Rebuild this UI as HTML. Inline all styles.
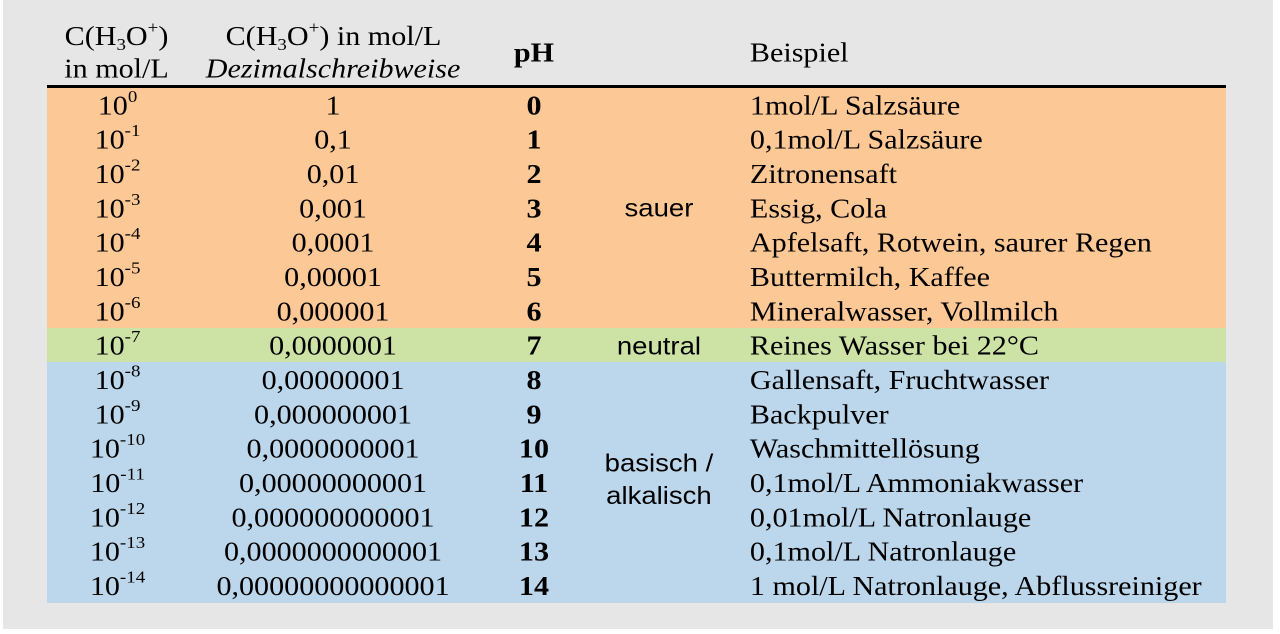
<!DOCTYPE html>
<html>
<head>
<meta charset="utf-8">
<style>
html,body{margin:0;padding:0;background:#fff;}
svg{display:block;}
.s{font-family:"Liberation Serif","Times New Roman",serif;font-size:27px;fill:#000;}
.a{font-family:"Liberation Sans",Arial,sans-serif;font-size:24.7px;fill:#000;}
.b{font-weight:bold;}
.m{text-anchor:middle;}
</style>
</head>
<body>
<svg width="1280" height="634" viewBox="0 0 1280 634" xmlns="http://www.w3.org/2000/svg">
<rect x="0" y="0" width="1280" height="634" fill="#ffffff"/>
<rect x="3" y="0" width="1270" height="629" fill="#e6e6e6"/>
<rect x="47" y="88" width="1179" height="240" fill="#fcc896"/>
<rect x="47" y="328" width="1179" height="34" fill="#cde2a5"/>
<rect x="47" y="362" width="1179" height="241" fill="#bcd6eb"/>
<rect x="47" y="85" width="1179" height="3" fill="#000"/>
<g transform="scale(1.115,1)">
<!-- header -->
<text class="s m" x="104.5" y="45">C(H<tspan font-size="17" dy="5">3</tspan><tspan dy="-5">O</tspan><tspan font-size="17" dy="-12">+</tspan><tspan dy="12">)</tspan></text>
<text class="s m" x="104.5" y="77.5">in mol/L</text>
<text class="s m" x="299.1" y="45">C(H<tspan font-size="17" dy="5">3</tspan><tspan dy="-5">O</tspan><tspan font-size="17" dy="-12">+</tspan><tspan dy="12">) in mol/L</tspan></text>
<text class="s m" x="298.7" y="77.5" font-style="italic">Dezimalschreibweise</text>
<text class="s m b" x="478.9" y="61.7">pH</text>
<text class="s" x="672.6" y="61.7">Beispiel</text>

<!-- col 1 -->
<text class="s m" x="105.4" y="114.3">10<tspan font-size="17" dy="-12.5">0</tspan></text>
<text class="s m" x="105.4" y="148.6">10<tspan font-size="17" dy="-12.5">-1</tspan></text>
<text class="s m" x="105.4" y="183">10<tspan font-size="17" dy="-12.5">-2</tspan></text>
<text class="s m" x="105.4" y="217.3">10<tspan font-size="17" dy="-12.5">-3</tspan></text>
<text class="s m" x="105.4" y="251.6">10<tspan font-size="17" dy="-12.5">-4</tspan></text>
<text class="s m" x="105.4" y="286">10<tspan font-size="17" dy="-12.5">-5</tspan></text>
<text class="s m" x="105.4" y="320.3">10<tspan font-size="17" dy="-12.5">-6</tspan></text>
<text class="s m" x="105.4" y="354.6">10<tspan font-size="17" dy="-12.5">-7</tspan></text>
<text class="s m" x="105.4" y="389">10<tspan font-size="17" dy="-12.5">-8</tspan></text>
<text class="s m" x="105.4" y="423.3">10<tspan font-size="17" dy="-12.5">-9</tspan></text>
<text class="s m" x="105.4" y="457.6">10<tspan font-size="17" dy="-12.5">-10</tspan></text>
<text class="s m" x="105.4" y="492">10<tspan font-size="17" dy="-12.5">-11</tspan></text>
<text class="s m" x="105.4" y="526.3">10<tspan font-size="17" dy="-12.5">-12</tspan></text>
<text class="s m" x="105.4" y="560.6">10<tspan font-size="17" dy="-12.5">-13</tspan></text>
<text class="s m" x="105.4" y="595">10<tspan font-size="17" dy="-12.5">-14</tspan></text>

<!-- col 2 -->
<text class="s m" x="298.7" y="114.3">1</text>
<text class="s m" x="298.7" y="148.6">0,1</text>
<text class="s m" x="298.7" y="183">0,01</text>
<text class="s m" x="298.7" y="217.3">0,001</text>
<text class="s m" x="298.7" y="251.6">0,0001</text>
<text class="s m" x="298.7" y="286">0,00001</text>
<text class="s m" x="298.7" y="320.3">0,000001</text>
<text class="s m" x="298.7" y="354.6">0,0000001</text>
<text class="s m" x="298.7" y="389">0,00000001</text>
<text class="s m" x="298.7" y="423.3">0,000000001</text>
<text class="s m" x="298.7" y="457.6">0,0000000001</text>
<text class="s m" x="298.7" y="492">0,00000000001</text>
<text class="s m" x="298.7" y="526.3">0,000000000001</text>
<text class="s m" x="298.7" y="560.6">0,0000000000001</text>
<text class="s m" x="298.7" y="595">0,00000000000001</text>

<!-- col 3 -->
<text class="s m b" x="478.9" y="114.3">0</text>
<text class="s m b" x="478.9" y="148.6">1</text>
<text class="s m b" x="478.9" y="183">2</text>
<text class="s m b" x="478.9" y="217.3">3</text>
<text class="s m b" x="478.9" y="251.6">4</text>
<text class="s m b" x="478.9" y="286">5</text>
<text class="s m b" x="478.9" y="320.3">6</text>
<text class="s m b" x="478.9" y="354.6">7</text>
<text class="s m b" x="478.9" y="389">8</text>
<text class="s m b" x="478.9" y="423.3">9</text>
<text class="s m b" x="478.9" y="457.6">10</text>
<text class="s m b" x="478.9" y="492">11</text>
<text class="s m b" x="478.9" y="526.3">12</text>
<text class="s m b" x="478.9" y="560.6">13</text>
<text class="s m b" x="478.9" y="595">14</text>

<!-- col 4 -->
<text class="a m" x="591" y="216.7">sauer</text>
<text class="a m" x="591" y="354.6">neutral</text>
<text class="a m" x="591" y="471.7">basisch /</text>
<text class="a m" x="591" y="504">alkalisch</text>

<!-- col 5 -->
<text class="s" x="672.6" y="114.3">1mol/L Salzsäure</text>
<text class="s" x="672.6" y="148.6">0,1mol/L Salzsäure</text>
<text class="s" x="672.6" y="183">Zitronensaft</text>
<text class="s" x="672.6" y="217.3">Essig, Cola</text>
<text class="s" x="672.6" y="251.6">Apfelsaft, Rotwein, saurer Regen</text>
<text class="s" x="672.6" y="286">Buttermilch, Kaffee</text>
<text class="s" x="672.6" y="320.3">Mineralwasser, Vollmilch</text>
<text class="s" x="672.6" y="354.6">Reines Wasser bei 22°C</text>
<text class="s" x="672.6" y="389">Gallensaft, Fruchtwasser</text>
<text class="s" x="672.6" y="423.3">Backpulver</text>
<text class="s" x="672.6" y="457.6">Waschmittellösung</text>
<text class="s" x="672.6" y="492">0,1mol/L Ammoniakwasser</text>
<text class="s" x="672.6" y="526.3">0,01mol/L Natronlauge</text>
<text class="s" x="672.6" y="560.6">0,1mol/L Natronlauge</text>
<text class="s" x="672.6" y="595">1 mol/L Natronlauge, Abflussreiniger</text>
</g>
</svg>
</body>
</html>
